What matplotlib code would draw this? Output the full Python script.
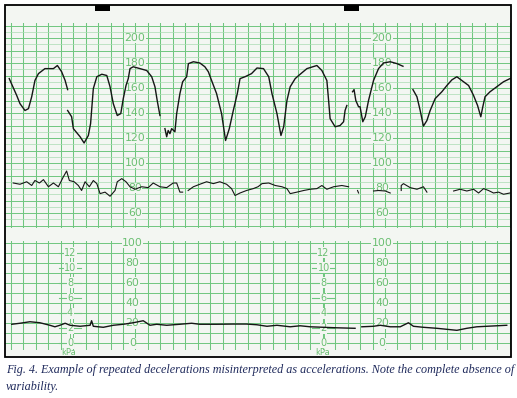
import numpy as np
import matplotlib.pyplot as plt
from matplotlib.patches import Rectangle

nan = np.nan

# fetal heart rate (time in min, bpm); nan marks gaps in the trace
fhr_t = [-0.06, 0.24, 0.37, 0.57, 0.71, 0.84, 0.97, 1.11, 1.37, 1.71, 1.87, 2.04, 2.18, 2.28, nan,
         2.28, 2.44, 2.51, 2.78, 2.94, 3.11, 3.20, 3.31, 3.45, 3.65, 3.85, 3.98, 4.11, 4.27, 4.41,
         4.51, 4.62, 4.71, 4.78, 4.91, 5.18, 5.45, 5.65, 5.78, 5.87, 5.98, nan,
         6.18, 6.25, 6.31, 6.38, 6.45, 6.58, 6.65, 6.78, 6.89, 7.05, 7.12, 7.32, 7.58, 7.78, 7.92,
         8.05, 8.25, 8.45, 8.61, 8.76, 8.92, 9.08, 9.19, 9.39, 9.65, 9.87, 10.13, 10.34, 10.47,
         10.67, 10.83, 10.94, 11.07, 11.20, 11.40, 11.54, 11.87, 12.27, 12.47, 12.67, 12.74, 12.80,
         13.00, 13.20, 13.34, 13.40, 13.47, nan,
         13.70, 13.76, 13.83, 13.94, 14.00, 14.11, 14.21, 14.34, 14.54, 14.74, 14.94, 15.21, 15.48,
         15.72, nan,
         16.12, 16.28, 16.41, 16.54, 16.68, 16.81, 17.01, 17.28, 17.48, 17.68, 17.88, 18.08, 18.35,
         18.55, 18.71, 18.84, 18.92, 19.01, 19.21, 19.48, 19.75, 20.01]
fhr_bpm = [167.5, 154, 147.5, 142, 143.5, 153, 166, 171.5, 175.5, 175.5, 178, 173, 166, 158.7, nan,
           142, 137, 127.5, 121, 116, 122, 131.5, 159.5, 169, 171, 170, 161, 147.5, 138, 139.5,
           151.5, 162, 167.5, 175.5, 177, 175.5, 174, 169, 161, 150, 138, nan,
           127.5, 121, 126, 123.5, 127.5, 125, 139.5, 155.5, 165, 169, 179.5, 181, 180, 177, 173,
           166, 155.5, 139.5, 118, 127.5, 142, 155.5, 167.5, 169, 171.5, 176, 175.5, 169, 155.5,
           139.5, 122, 129, 150, 161, 167.5, 170, 175.5, 178, 174, 166, 150, 135.5,
           129, 130, 133, 142, 146, nan,
           157, 158.7, 150, 145, 145, 133, 137, 150, 166, 175.5, 180, 181, 179.5,
           177.4, nan,
           158.7, 153, 142, 129.5, 134, 142, 151.5, 157, 162, 166.5, 169, 166, 162,
           154, 146, 137, 145, 153, 157, 161, 165, 167.5]

# maternal heart rate
mhr_t = [0.10, 0.37, 0.64, 0.84, 0.97, 1.15, 1.31, 1.51, 1.71, 1.91, 2.11, 2.24, 2.35, 2.54, 2.71,
         2.84, 2.98, 3.15, 3.31, 3.45, 3.58, 3.78, 3.98, 4.18, 4.27, 4.45, 4.62, 4.78, 4.98, 5.25,
         5.51, 5.71, 5.98, 6.25, 6.51, 6.65, 6.78, 6.89, nan,
         7.11, 7.32, 7.58, 7.85, 8.12, 8.38, 8.65, 8.85, 8.99, 9.19, 9.45, 9.72, 9.91, 10.07, 10.34,
         10.60, 10.87, 11.07, 11.20, 11.47, 11.74, 12.00, 12.27, 12.47, 12.67, 12.94, 13.27, 13.54, nan,
         13.90, 13.94, nan,
         14.54, 14.74, 15.01, 15.21, nan,
         15.65, 15.65, 15.74, 16.01, 16.28, 16.54, 16.68, nan,
         17.75, 18.01, 18.28, 18.55, 18.75, 18.95, 19.15, 19.35, 19.55, 19.75, 20.01]
mhr_bpm = [84, 83, 85, 82, 86, 84, 86.7, 81, 84, 81, 89, 93.6, 86, 85, 82,
           78, 85, 81, 86, 83.5, 75.5, 76.7, 73.4, 78, 85, 87.5, 85, 81, 79, 81,
           80.3, 84, 81, 80.3, 84, 84, 76.7, 76.7, nan,
           78, 81, 83, 85, 83.5, 85, 83, 79.5, 74, 76, 78, 79.5, 81, 83.5, 84,
           82, 81, 79.5, 75.5, 76.7, 78, 79, 79.5, 82, 79, 81, 82, 81, nan,
           78, 76, nan,
           77.6, 78, 77.6, 76, nan,
           78, 82, 83.5, 80.3, 79, 81, 76.7, nan,
           77.6, 79, 77.6, 79, 76, 79.5, 78, 76, 76.7, 75, 76]

# uterine activity
ua_t = [0.04, 0.37, 0.77, 1.17, 1.57, 1.77, 1.97, 2.18, 2.38, 2.78, 3.18, 3.24, 3.31, 3.71, 4.11,
        4.51, 4.91, 5.31, 5.58, 5.85, 6.25, 6.78, 7.25, 7.58, 8.25, 8.92, 9.45, 9.87, 10.27, 10.67,
        11.20, 11.60, 12.00, 12.54, 13.07, 13.80, nan,
        14.07, 14.54, 14.81, 15.21, 15.61, 15.94, 16.14, 16.54, 17.08, 17.48, 17.88, 18.28, 18.68,
        19.08, 19.48, 19.88]
ua_val = [19, 20, 21.5, 20.5, 18, 16.5, 18, 20, 18, 17, 18, 22.5, 17, 16, 18,
          19, 20.5, 22.5, 18, 19, 18, 19, 20, 19, 19, 19.2, 19.2, 18.5, 17, 18,
          16.5, 17.5, 16.5, 16, 15.5, 15, nan,
          16.5, 17, 18, 16.5, 16.5, 20.5, 17, 16, 15, 14, 13, 15, 16.5,
          17, 17.5, 18]

fhr_labels = [200, 180, 160, 140, 120, 100, 80, 60]
ua_labels = [100, 80, 60, 40, 20, 0]
kpa_labels = [12, 10, 8, 6, 4, 2, 0]
fhr_label_t = [4.98, 14.88]
ua_label_t = [4.88, 14.88]
kpa_label_t = [2.38, 12.54]

caption = ("Fig. 4. Example of repeated decelerations misinterpreted as accelerations. "
           "Note the complete absence of\nvariability.")

W, H = 517, 398
paper = '#f3f6f2'
green = '#6fc67f'
pale_green = '#a9dcb2'
label_green = '#6abf72'

fig = plt.figure(figsize=(W / 100, H / 100), dpi=100)
fig.patch.set_facecolor('white')

# paper area, frame drawn on top later
fig.patches.append(Rectangle((5 / W, 1 - 357 / H), 506 / W, 352 / H, transform=fig.transFigure,
                             facecolor=paper, edgecolor='none', zorder=-5))

xlim = (-0.23, 20.05)
vlines = np.arange(0, 20.01, 0.5)

# heart rate panel
ax1 = fig.add_axes([5 / W, 1 - 228 / H, 506 / W, 205 / H])
ax1.set_facecolor(paper)
ax1.set_xlim(xlim)
ax1.set_ylim(48, 212)
for v in vlines:
    ax1.axvline(v, color=green, lw=0.75, zorder=1)
for h in range(50, 211, 5):
    if h % 10 == 0:
        ax1.axhline(h, color=green, lw=0.7, zorder=1)
    else:
        ax1.axhline(h, color=pale_green, lw=0.5, zorder=1)
for tx in fhr_label_t:
    for b in fhr_labels:
        ax1.text(tx, b, str(b), color=label_green, fontsize=7.8, ha='center', va='center', zorder=2,
                 bbox=dict(facecolor=paper, edgecolor='none', pad=0.3))
ax1.plot(fhr_t, fhr_bpm, color='#151515', lw=1.0, zorder=3)
ax1.plot(mhr_t, mhr_bpm, color='#151515', lw=0.8, zorder=3)
ax1.axis('off')

# uterine activity panel
ax2 = fig.add_axes([5 / W, 1 - 350 / H, 506 / W, 109 / H])
ax2.set_facecolor(paper)
ax2.set_xlim(xlim)
ax2.set_ylim(-6.5, 101.5)
for v in vlines:
    ax2.axvline(v, color=green, lw=0.75, zorder=1)
for h in range(0, 101, 10):
    ax2.axhline(h, color=green, lw=0.7, zorder=1)
for tx in ua_label_t:
    for u in ua_labels:
        ax2.text(tx, u, str(u), color=label_green, fontsize=7.8, ha='center', va='center', zorder=2,
                 bbox=dict(facecolor=paper, edgecolor='none', pad=0.3))
for tx in kpa_label_t:
    ax2.plot([tx, tx], [0, 90], color=green, lw=0.7, zorder=1)
    for k in kpa_labels:
        ax2.plot([tx - 0.45, tx + 0.45], [k * 7.5, k * 7.5], color=green, lw=0.8, zorder=1)
        ax2.text(tx, k * 7.5, str(k), color=label_green, fontsize=7, ha='center', va='center',
                 zorder=2, bbox=dict(facecolor=paper, edgecolor='none', pad=0.3))
    ax2.text(tx - 0.05, -8.8, 'kPa', color=label_green, fontsize=6, ha='center', va='center',
             zorder=2, clip_on=False)
ax2.plot(ua_t, ua_val, color='#151515', lw=1.0, zorder=3)
ax2.axis('off')

# frame and the two black paper marks
frame = fig.add_axes([0, 0, 1, 1], facecolor='none')
frame.set_xlim(0, W)
frame.set_ylim(H, 0)
frame.axis('off')
frame.add_patch(Rectangle((5, 5), 506, 352, facecolor='none', edgecolor='black', linewidth=1.3))
for x0 in [95, 344]:
    frame.add_patch(Rectangle((x0, 5), 15, 6, facecolor='black', edgecolor='none'))

fig.text(6 / W, 1 - 363.5 / H, caption, color='#1f2a5c', fontsize=8.75, family='Liberation Serif',
         style='italic', ha='left', va='top', linespacing=1.6)

fig.savefig('out.png', dpi=100)
